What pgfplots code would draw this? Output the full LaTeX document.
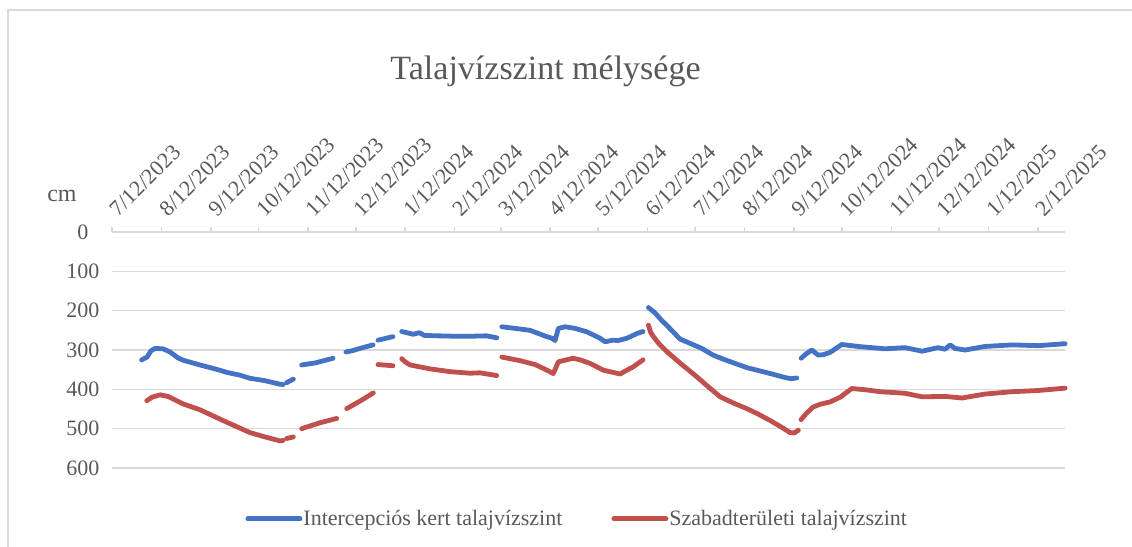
\documentclass[border=0pt]{standalone}
\usepackage{pgfplots}
\usepackage{pgfplotstable}
\pgfplotsset{compat=1.18}
\usepackage{fontspec}
\setmainfont{Liberation Serif}
\definecolor{sblue}{HTML}{4472C4}
\definecolor{sred}{HTML}{C0504D}
\definecolor{tgray}{HTML}{595959}
\definecolor{ggray}{HTML}{D9D9D9}
\pgfplotstableread{
x y
18.6 325
22.0 318
24.5 302
27.0 296
32.0 297
36.4 305
41.4 320
44.6 326
55.2 338
64.6 348
72.2 357
80.3 364
86.6 372
96.0 378
105.4 387
107.3 388
nan nan
109.6 383
113.8 374
nan nan
119.0 338
127.4 333
138.7 321
nan nan
146.8 305
150.6 302
155.6 296
163.8 287
nan nan
166.9 275
176.3 266
nan nan
181.8 253
185.0 256
189.0 260
193.0 256
196.0 263
205.0 264
215.0 265
225.0 265
235.0 264
241.4 269
nan nan
244.6 241
252.9 245
262.3 250
272.8 266
276.1 270
278.0 276
280.1 245
284.3 241
290.6 245
298.1 254
306.2 270
309.4 279
314.4 275
317.5 276
323.2 270
329.5 258
333.2 253
nan nan
336.6 192
340.8 206
345.0 225
348.3 238
356.4 272
370.1 296
377.2 313
384.7 325
398.5 345
414.2 361
422.3 370
426.1 373
429.7 371
nan nan
432.4 321
435.5 310
439.1 300
443.1 313
446.2 312
450.6 306
457.9 286
468.2 291
485.1 297
497.6 294
508.3 303
518.4 294
522.7 298
525.9 287
529.0 296
535.3 300
547.8 291
564.8 287
581.1 289
598.1 284
}\blue
\pgfplotstableread{
x y
21.8 429
25.1 420
30.1 414
35.1 418
44.6 437
55.2 452
72.2 484
86.6 510
96.0 521
105.4 531
107.3 530
nan nan
109.6 525
113.8 521
nan nan
119.0 500
130.5 485
141.0 474
nan nan
147.3 449
155.6 430
164.0 409
nan nan
166.9 337
176.3 340
nan nan
181.8 322
183.9 330
187.0 338
199.6 348
212.1 355
224.7 359
230.9 358
241.4 365
nan nan
244.6 318
256.0 327
265.5 337
272.8 351
276.9 360
280.1 330
289.3 321
293.7 325
300.0 334
308.1 351
318.8 361
323.2 351
327.0 343
333.2 325
nan nan
336.6 237
338.0 255
339.7 266
343.0 283
348.1 304
357.0 335
366.9 368
374.0 393
381.6 419
390.0 435
398.3 449
405.0 462
412.9 479
420.0 496
425.5 510
428.0 511
430.7 504
nan nan
432.4 477
435.5 462
439.9 445
444.3 438
450.6 432
456.9 420
464.2 398
472.5 401
482.0 406
497.6 410
508.3 419
522.7 418
533.4 422
547.8 412
564.8 406
581.1 403
598.1 397
}\red
\begin{document}
\begin{tikzpicture}
\useasboundingbox (0,0) rectangle (566pt,-273.5pt);
\draw[ggray, line width=0.6pt] (4pt,-273.5pt) -- (4pt,-5pt) -- (566pt,-5pt);
\node[anchor=base, text=tgray, font=\fontsize{17}{20}\selectfont, inner sep=0pt] at (272.75pt,-39.5pt) {Talajvízszint mélysége};
\node[anchor=base, text=tgray, font=\fontsize{12}{14}\selectfont, inner sep=0pt] at (31pt,-100.5pt) {cm};
\begin{axis}[
  at={(56pt,-116pt)}, anchor=north west,
  scale only axis, width=476.5pt, height=118pt,
  xmin=0, xmax=598, ymin=0, ymax=600, y dir=reverse,
  axis x line*=top, axis y line*=left,
  x axis line style={ggray, line width=0.8pt, -},
  y axis line style={draw=none},
  xtick={0,31,62,92,123,153,184,215,244,275,305,336,366,397,428,458,489,519,550,581},
  xticklabels={7/12/2023,8/12/2023,9/12/2023,10/12/2023,11/12/2023,12/12/2023,1/12/2024,2/12/2024,3/12/2024,4/12/2024,5/12/2024,6/12/2024,7/12/2024,8/12/2024,9/12/2024,10/12/2024,11/12/2024,12/12/2024,1/12/2025,2/12/2025},
  xticklabel style={xshift=3.5pt, yshift=4.5pt, rotate=45, anchor=south west, inner sep=0pt, font=\fontsize{11}{13}\selectfont, text=tgray},
  xtick style={ggray, line width=0.8pt},
  major tick length=2.5pt, tick align=outside,
  ytick={0,100,200,300,400,500,600},
  ytick style={draw=none},
  yticklabel style={anchor=center, xshift=-12pt, font=\fontsize{11}{13}\selectfont, text=tgray},
  /pgf/number format/assume math mode=true,
  ymajorgrids, grid style={ggray, line width=0.8pt},
  unbounded coords=jump,
  legend style={at={(axis description cs:0.1396,-0.216)}, anchor=west, draw=none, fill=none, inner sep=0pt,
    font=\fontsize{11}{13}\selectfont, text=tgray, legend columns=2,
    nodes={inner sep=0.5pt},
    /tikz/every even column/.append style={column sep=24pt}},
  legend image code/.code={\draw[#1, line width=2.5pt, line cap=round] (0pt,0pt) -- (26pt,0pt);},
  clip=false,
]
\addplot[sblue, line width=2.4pt, line cap=round, line join=round] table[x=x,y=y] {\blue};
\addlegendentry{Intercepciós kert talajvízszint}
\addplot[sred, line width=2.4pt, line cap=round, line join=round] table[x=x,y=y] {\red};
\addlegendentry{Szabadterületi talajvízszint}
\end{axis}
\end{tikzpicture}
\end{document}
